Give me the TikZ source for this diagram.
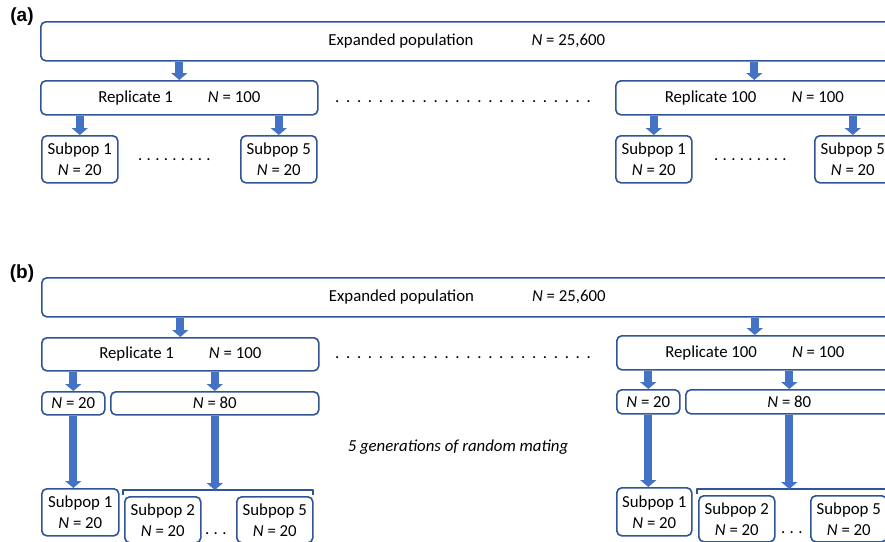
\documentclass[tikz,border=0pt]{standalone}
\usepackage{fontspec}
\setmainfont{Carlito}
\newfontfamily\panelfont{Liberation Sans}
\usepackage{tikz}
\usetikzlibrary{arrows.meta,calc,positioning}
\definecolor{boxblue}{RGB}{47,85,151}
\definecolor{arrowblue}{RGB}{68,114,196}
\newcommand{\Nv}{\textit{N}}
\newcommand{\dotrow}[2]{\foreach \k in {2,...,#1}{.\hspace*{#2}}.}

\begin{document}
\begin{tikzpicture}[x=1pt, y=-1pt, line join=round,
    popbox/.style={draw=boxblue, line width=1.6pt, rounded corners=5pt, fill=white,
      anchor=north west, inner sep=0pt, align=center,
      font=\fontsize{16.8}{21}\selectfont},
    blockarrow/.style={draw=arrowblue, line width=8pt, -{Triangle[length=7pt,width=16pt]}},
    bracketline/.style={draw=boxblue, line width=1.6pt},
    dotstext/.style={anchor=base west, inner sep=0pt, font=\fontsize{16.8}{21}\selectfont},
    panellabel/.style={font=\panelfont\bfseries\fontsize{19}{22}\selectfont, inner sep=0pt}]
    \clip (0,0) rectangle (885,541);

    % panel (a)
    \node[panellabel] (labA) at (22,17) {(a)};
    \node[popbox, minimum width=852pt, minimum height=39pt] (expA) at (40,21)
      {Expanded population\hspace{58pt}\Nv{} = 25,600};
    \node[popbox, minimum width=277pt, minimum height=34pt] (repA1) at (40,80)
      {Replicate 1\hspace{35pt}\Nv{} = 100};
    \node[popbox, minimum width=277pt, minimum height=34pt] (repAn) at (615,80)
      {Replicate 100\hspace{35pt}\Nv{} = 100};
    \node[dotstext] (dotsA) at (335,102) {\dotrow{24}{6.7pt}};
    \node[popbox, minimum width=76pt, minimum height=47pt] (subA1) at (41,135) {Subpop 1\\\Nv{} = 20};
    \node[popbox, minimum width=76pt, minimum height=47pt] (subA5) at (240,135) {Subpop 5\\\Nv{} = 20};
    \node[popbox, minimum width=76pt, minimum height=47pt] (subAn1) at (615,135) {Subpop 1\\\Nv{} = 20};
    \node[popbox, minimum width=76pt, minimum height=47pt] (subAn5) at (814,135) {Subpop 5\\\Nv{} = 20};
    \node[dotstext] (dotsA1) at (138,160) {\dotrow{9}{4.3pt}};
    \node[dotstext] (dotsAn) at (714,160) {\dotrow{9}{4.3pt}};

    \draw[blockarrow] (expA.south -| repA1.north) -- (repA1.north);
    \draw[blockarrow] (expA.south -| repAn.north) -- (repAn.north);
    \draw[blockarrow] (repA1.south -| subA1.north) -- (subA1.north);
    \draw[blockarrow] (repA1.south -| subA5.north) -- (subA5.north);
    \draw[blockarrow] (repAn.south -| subAn1.north) -- (subAn1.north);
    \draw[blockarrow] (repAn.south -| subAn5.north) -- (subAn5.north);

    % panel (b)
    \node[panellabel] (labB) at (22,274) {(b)};
    \node[popbox, minimum width=851pt, minimum height=39pt] (expB) at (41,277)
      {Expanded population\hspace{58pt}\Nv{} = 25,600};
    \node[popbox, minimum width=277pt, minimum height=33pt] (repB1) at (41,337)
      {Replicate 1\hspace{35pt}\Nv{} = 100};
    \node[popbox, minimum width=276pt, minimum height=34pt] (repBn) at (616,335)
      {Replicate 100\hspace{35pt}\Nv{} = 100};
    \node[dotstext] (dotsB) at (335,358) {\dotrow{24}{6.7pt}};
    \node[popbox, minimum width=63pt, minimum height=23pt] (smB1) at (41,391) {\Nv{} = 20};
    \node[popbox, minimum width=208pt, minimum height=23pt] (bgB1) at (110,391) {\Nv{} = 80};
    \node[popbox, minimum width=63pt, minimum height=24pt] (smBn) at (616,389) {\Nv{} = 20};
    \node[popbox, minimum width=207pt, minimum height=24pt] (bgBn) at (685,389) {\Nv{} = 80};
    \node[font=\fontsize{16.8}{21}\selectfont\itshape] (mating) at (458,447) {5 generations of random mating};

    \node[popbox, minimum width=77pt, minimum height=47pt] (subB1) at (41,488) {Subpop 1\\\Nv{} = 20};
    \node[popbox, minimum width=76pt, minimum height=46pt] (subB2) at (124,496) {Subpop 2\\\Nv{} = 20};
    \node[popbox, minimum width=76pt, minimum height=46pt] (subB5) at (236,496) {Subpop 5\\\Nv{} = 20};
    \node[dotstext] (dotsB1) at (205,534) {\dotrow{3}{4.3pt}};
    \node[popbox, minimum width=75pt, minimum height=48pt] (subBn1) at (616,487) {Subpop 1\\\Nv{} = 20};
    \node[popbox, minimum width=76pt, minimum height=46pt] (subBn2) at (698,495) {Subpop 2\\\Nv{} = 20};
    \node[popbox, minimum width=76pt, minimum height=46pt] (subBn5) at (810,495) {Subpop 5\\\Nv{} = 20};
    \node[dotstext] (dotsBn) at (781,533) {\dotrow{3}{4.3pt}};

    % brackets over subpops 2..5
    \coordinate (brB1) at (218,490);
    \coordinate (brBn) at (790,489);
    \draw[bracketline] (123,495) -- (123,490) -- (313,490) -- (313,495);
    \draw[bracketline] (697,494) -- (697,489) -- (895,489);

    \draw[blockarrow] (expB.south -| repB1.north) -- (repB1.north);
    \draw[blockarrow] (expB.south -| repBn.north) -- (repBn.north);
    \draw[blockarrow] (repB1.south -| smB1.north) -- (smB1.north);
    \draw[blockarrow] (repB1.south -| bgB1.north) -- (bgB1.north);
    \draw[blockarrow] (repBn.south -| smBn.north) -- (smBn.north);
    \draw[blockarrow] (repBn.south -| bgBn.north) -- (bgBn.north);
    \draw[blockarrow] (smB1.south) -- (smB1.south |- subB1.north);
    \draw[blockarrow] (bgB1.south) -- (bgB1.south |- brB1);
    \draw[blockarrow] (smBn.south) -- (smBn.south |- subBn1.north);
    \draw[blockarrow] (bgBn.south) -- (bgBn.south |- brBn);
\end{tikzpicture}
\end{document}
